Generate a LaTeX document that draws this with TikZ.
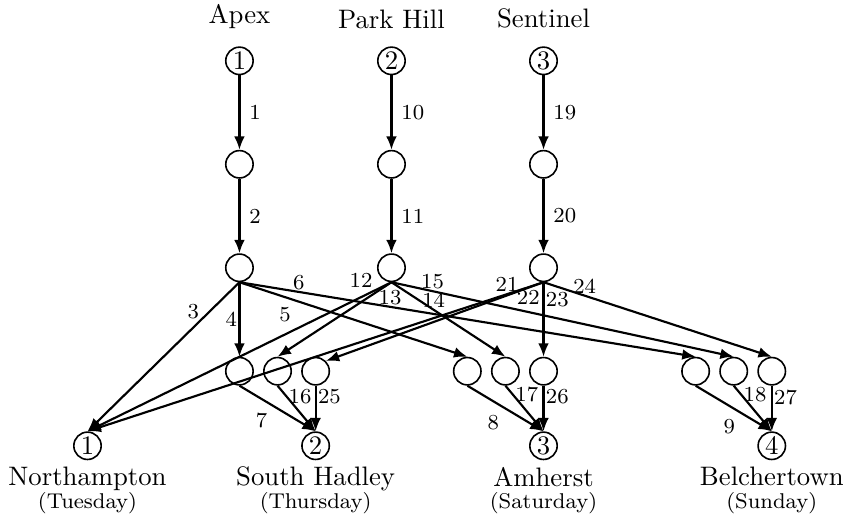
\documentclass[tikz,border=0pt]{standalone}
\usepackage{tikz}
\usetikzlibrary{arrows.meta,positioning}

\begin{document}
\begin{tikzpicture}[
  vtx/.style={draw, circle, semithick, minimum size=0.36cm, inner sep=0pt},
  arr/.style={-{Latex[length=5pt, width=4pt]}, thick},
  lab/.style={font=\footnotesize},
  tight/.style={lab, inner sep=0.5pt},
  town/.style={align=center}]
\useasboundingbox (0,0) rectangle (11.09,-6.80);
% depots
\node[vtx] (apex) at (3.15,-0.80) {1};
\node[vtx] (park) at (5.15,-0.80) {2};
\node[vtx] (sent) at (7.15,-0.80) {3};
\node[above=0.11cm of apex] (apexlab) {Apex};
\node[above=0.11cm of park] (parklab) {Park Hill};
\node[above=0.11cm of sent] (sentlab) {Sentinel};
\node[vtx, below=0.98cm of apex] (apex1) {};
\node[vtx, below=0.98cm of apex1] (apex2) {};
\node[vtx, below=0.98cm of park] (park1) {};
\node[vtx, below=0.98cm of park1] (park2) {};
\node[vtx, below=0.98cm of sent] (sent1) {};
\node[vtx, below=0.98cm of sent1] (sent2) {};
% stops before each town
\node[vtx, below=0.98cm of apex2] (sh1) {};
\node[vtx, right=0.12cm of sh1] (sh2) {};
\node[vtx, right=0.12cm of sh2] (sh3) {};
\node[vtx, below=0.98cm of sent2] (am3) {};
\node[vtx, left=0.12cm of am3] (am2) {};
\node[vtx, left=0.12cm of am2] (am1) {};
\node[vtx, right=1.62cm of am3] (be1) {};
\node[vtx, right=0.12cm of be1] (be2) {};
\node[vtx, right=0.12cm of be2] (be3) {};
% towns
\node[vtx, below=0.6cm of sh3] (sh) {2};
\node[vtx, left=2.62cm of sh] (nh) {1};
\node[vtx, below=0.6cm of am3] (am) {3};
\node[vtx, below=0.6cm of be3] (be) {4};
\node[town, below=-1pt of nh] (nhlab) {Northampton\\[-3.5pt]{\footnotesize (Tuesday)}};
\node[town, below=-1pt of sh] (shlab) {South Hadley\\[-3.5pt]{\footnotesize (Thursday)}};
\node[town, below=-1pt of am] (amlab) {Amherst\\[-3.5pt]{\footnotesize (Saturday)}};
\node[town, below=-1pt of be] (belab) {Belchertown\\[-3.5pt]{\footnotesize (Sunday)}};
% Apex
\draw[arr] (apex) -- node[lab, right] {1} (apex1);
\draw[arr] (apex1) -- node[lab, right] {2} (apex2);
\draw[arr] (apex2.south) -- node[lab, pos=0.2, left] {3} (nh.north);
\draw[arr] (apex2) -- node[tight, left] {4} (sh1);
\draw[arr] (apex2.south) -- node[lab, pos=0.2, below] {5} (am1.north);
\draw[arr] (apex2.south) -- node[tight, pos=0.13, above] {6} (be1.north);
\draw[arr] (sh1.south) -- node[lab, inner sep=2pt, pos=0.45, below left] {7} (sh.north);
\draw[arr] (am1.south) -- node[lab, inner sep=2pt, below left] {8} (am.north);
\draw[arr] (be1.south) -- node[lab, inner sep=2pt, pos=0.6, below left] {9} (be.north);
% Park Hill
\draw[arr] (park) -- node[lab, right] {10} (park1);
\draw[arr] (park1) -- node[lab, right] {11} (park2);
\draw[arr] (park2.south) -- node[lab, pos=0.1, above] {12} (nh.north);
\draw[arr] (park2.south) -- node[lab, pos=0.2, right] {13} (sh2.north);
\draw[arr] (park2.south) -- node[tight, pos=0.37, above] {14} (am2.north);
\draw[arr] (park2.south) -- node[tight, pos=0.12, above] {15} (be2.north);
\draw[arr] (sh2.south) -- node[tight, pos=0.23, right] {16} (sh.north);
\draw[arr] (am2.south) -- node[tight, pos=0.2, right] {17} (am.north);
\draw[arr] (be2.south) -- node[tight, pos=0.2, right] {18} (be.north);
% Sentinel
\draw[arr] (sent) -- node[lab, right] {19} (sent1);
\draw[arr] (sent1) -- node[lab, right] {20} (sent2);
\draw[arr] (sent2.south) -- node[tight, pos=0.08, above] {21} (nh.north);
\draw[arr] (sent2.south) -- node[tight, pos=0.07, below] {22} (sh3.north east);
\draw[arr] (sent2) -- node[tight, pos=0.24, right] {23} (am3);
\draw[arr] (sent2.south) -- node[tight, pos=0.18, above] {24} (be3.north);
\draw[arr] (sh3) -- node[tight, pos=0.25, right] {25} (sh);
\draw[arr] (am3) -- node[tight, pos=0.25, right] {26} (am);
\draw[arr] (be3) -- node[tight, pos=0.25, right] {27} (be);
\end{tikzpicture}
\end{document}
